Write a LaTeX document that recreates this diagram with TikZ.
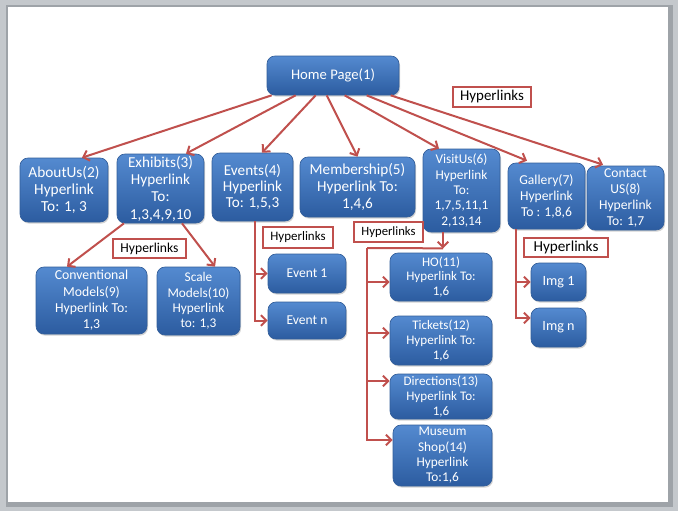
\documentclass[tikz,border=0pt]{standalone}
\usepackage{fontspec}
\setmainfont{Carlito}
\usetikzlibrary{arrows.meta,calc,shadows}

\definecolor{boxtop}{RGB}{84,138,208}
\definecolor{boxbot}{RGB}{44,92,160}
\definecolor{boxline}{RGB}{50,94,154}
\definecolor{linkred}{RGB}{192,80,77}
\definecolor{framegray}{RGB}{196,200,204}
\definecolor{edgegray}{RGB}{158,163,168}

\tikzset{every picture/.style={line width=0.75pt}}
\tikzset{
  pagebox/.style={rectangle, rounded corners=6pt, top color=boxtop, bottom color=boxbot,
    draw=boxline, line width=0.5pt, text=white, align=center, inner sep=0pt,
    drop shadow={opacity=0.35, shadow xshift=0.8pt, shadow yshift=-1.2pt}},
  linkbox/.style={rectangle, draw=linkred, line width=1.5pt, fill=white, inner sep=0pt, text=black},
  hlink/.style={draw=linkred, line width=1.5pt, -{Straight Barb[length=4pt,width=8pt]}},
  hbus/.style={draw=linkred, line width=1.5pt},
}

\begin{document}
\begin{tikzpicture}[x=0.75pt,y=0.75pt,yscale=-1]
%Slide frame
\fill[framegray] (0,0) rectangle (678,511);
\fill[edgegray] (6,5) rectangle (673,507);
\fill[white] (8,7) rectangle (668,502);
\useasboundingbox (0,0) rectangle (678,511);

%Top level
\node[pagebox, minimum width=99pt, minimum height=29.25pt, font=\fontsize{11}{13}\selectfont] (home) at (333,75.5) {Home Page(1)};

%Second level
\node[pagebox, minimum width=66pt, minimum height=48pt, font=\fontsize{11.5}{13}\selectfont] (about) at (64,190) {AboutUs(2)\\Hyperlink\\To: 1, 3};
\node[pagebox, minimum width=65.25pt, minimum height=51.75pt, font=\fontsize{11.4}{13}\selectfont] (exhib) at (160.5,188.5) {Exhibits(3)\\Hyperlink\\To:\\1,3,4,9,10};
\node[pagebox, minimum width=60.75pt, minimum height=51pt, font=\fontsize{11.4}{12.25}\selectfont] (events) at (252.5,187) {Events(4)\\Hyperlink\\To: 1,5,3};
\node[pagebox, minimum width=86.25pt, minimum height=45pt, font=\fontsize{11.4}{12.5}\selectfont] (member) at (357.5,187) {Membership(5)\\Hyperlink To:\\1,4,6};
\node[pagebox, minimum width=57.75pt, minimum height=62.25pt, font=\fontsize{10}{11.5}\selectfont] (visit) at (461.5,190.5) {VisitUs(6)\\Hyperlink\\To:\\1,7,5,11,1\\2,13,14};
\node[pagebox, minimum width=57.75pt, minimum height=49.5pt, font=\fontsize{10.2}{12}\selectfont] (gallery) at (546.5,196) {Gallery(7)\\Hyperlink\\To : 1,8,6};
\node[pagebox, minimum width=57.75pt, minimum height=48pt, font=\fontsize{10.2}{12}\selectfont] (contact) at (625.5,198) {Contact\\US(8)\\Hyperlink\\To: 1,7};

%Exhibits children
\node[pagebox, minimum width=83.25pt, minimum height=50.25pt, font=\fontsize{10.3}{12.3}\selectfont] (conv) at (91.5,300.5) {Conventional\\Models(9)\\Hyperlink To:\\1,3};
\node[pagebox, minimum width=62.25pt, minimum height=51pt, font=\fontsize{10}{11.4}\selectfont] (scale) at (198.5,301) {Scale\\Models(10)\\Hyperlink\\to: 1,3};

%Events children
\node[pagebox, minimum width=58.5pt, minimum height=29.25pt, font=\fontsize{10.2}{12}\selectfont] (ev1) at (307,273.5) {Event 1};
\node[pagebox, minimum width=58.5pt, minimum height=27.75pt, font=\fontsize{10.2}{12}\selectfont] (evn) at (307,320.5) {Event n};

%VisitUs children
\node[pagebox, minimum width=76.5pt, minimum height=36pt, font=\fontsize{9.8}{11}\selectfont] (ho) at (441,277) {HO(11)\\Hyperlink To:\\1,6};
\node[pagebox, minimum width=76.5pt, minimum height=36.75pt, font=\fontsize{9.8}{11}\selectfont] (tickets) at (441,340.5) {Tickets(12)\\Hyperlink To:\\1,6};
\node[pagebox, minimum width=76.5pt, minimum height=33.75pt, font=\fontsize{9.8}{11.4}\selectfont] (direc) at (441,396.5) {Directions(13)\\Hyperlink To:\\1,6};
\node[pagebox, minimum width=74.25pt, minimum height=45.75pt, font=\fontsize{10}{11.5}\selectfont] (shop) at (442.5,455.5) {Museum\\Shop(14)\\Hyperlink\\To:1,6};

%Gallery children
\node[pagebox, minimum width=41.25pt, minimum height=28.5pt, font=\fontsize{10.6}{12}\selectfont] (img1) at (558.5,282) {Img 1};
\node[pagebox, minimum width=41.25pt, minimum height=29.25pt, font=\fontsize{10.6}{12}\selectfont] (imgn) at (558.5,327.5) {Img n};

% Text Node
\node[linkbox, minimum width=58.5pt, minimum height=15pt, font=\fontsize{11.2}{13}\selectfont] (hltop) at (492,97) {Hyperlinks};
% Text Node
\node[linkbox, minimum width=54.75pt, minimum height=14.25pt, font=\fontsize{10.2}{12}\selectfont] (hlexhib) at (149.5,248.5) {Hyperlinks};
% Text Node
\node[linkbox, minimum width=52.5pt, minimum height=15.75pt, font=\fontsize{9.7}{12}\selectfont] (hlevents) at (298,237.5) {Hyperlinks};
% Text Node
\node[linkbox, minimum width=51.75pt, minimum height=15pt, font=\fontsize{9.5}{12}\selectfont] (hlvisit) at (388.5,232) {Hyperlinks};
% Text Node
\node[linkbox, minimum width=63pt, minimum height=14.25pt, font=\fontsize{11.4}{13}\selectfont] (hlgallery) at (566,247.5) {Hyperlinks};

%Home links
\draw[hlink] ($(home.south west)+(5,0)$) -- ($(about.north)+(18,0)$);
\draw[hlink] ($(home.south west)+(29,0)$) -- ($(exhib.north)+(25.5,0)$);
\draw[hlink] ($(home.south west)+(49,0)$) -- ($(events.north)+(9.5,0)$);
\draw[hlink] ($(home.south west)+(60,0)$) -- (member.north);
\draw[hlink] ($(home.south west)+(78,0)$) -- ($(visit.north)+(-22.5,0)$);
\draw[hlink] ($(home.south west)+(100,0)$) -- ($(gallery.north)+(-19.5,-2)$);
\draw[hlink] ($(home.south west)+(124,0)$) -- ($(contact.north)+(-22.5,-1)$);

%Exhibits links
\draw[hlink] ($(exhib.south)+(-36.5,0)$) -- ($(conv.north)+(-24.5,0)$);
\draw[hlink] ($(exhib.south)+(21.5,0)$) -- ($(scale.north)+(16.5,0)$);

%Events links
\coordinate (ebus) at ($(events.south)+(2.5,0)$);
\draw[hlink] (ebus) |- (ev1);
\draw[hlink] (ebus) |- (evn);

%VisitUs links
\coordinate (vdrop) at ($(visit.south)+(-18.5,16)$);
\coordinate (vbus) at (367,248);
\draw[hlink] ($(visit.south)+(-18.5,0)$) -- (vdrop);
\draw[hbus] (vdrop) -- (vbus);
\draw[hlink] (vbus) |- ($(ho.west)+(0,5)$);
\draw[hlink] (vbus) |- ($(tickets.west)+(0,-7.5)$);
\draw[hlink] (vbus) |- ($(direc.west)+(0,-15.5)$);
\draw[hlink] (vbus) |- ($(shop.west)+(0,-15.5)$);

%Gallery links
\coordinate (gbus) at ($(gallery.south)+(-30.5,0)$);
\draw[hlink] (gbus) |- (img1);
\draw[hlink] (gbus) |- ($(imgn.west)+(0,-9.5)$);
\end{tikzpicture}
\end{document}
